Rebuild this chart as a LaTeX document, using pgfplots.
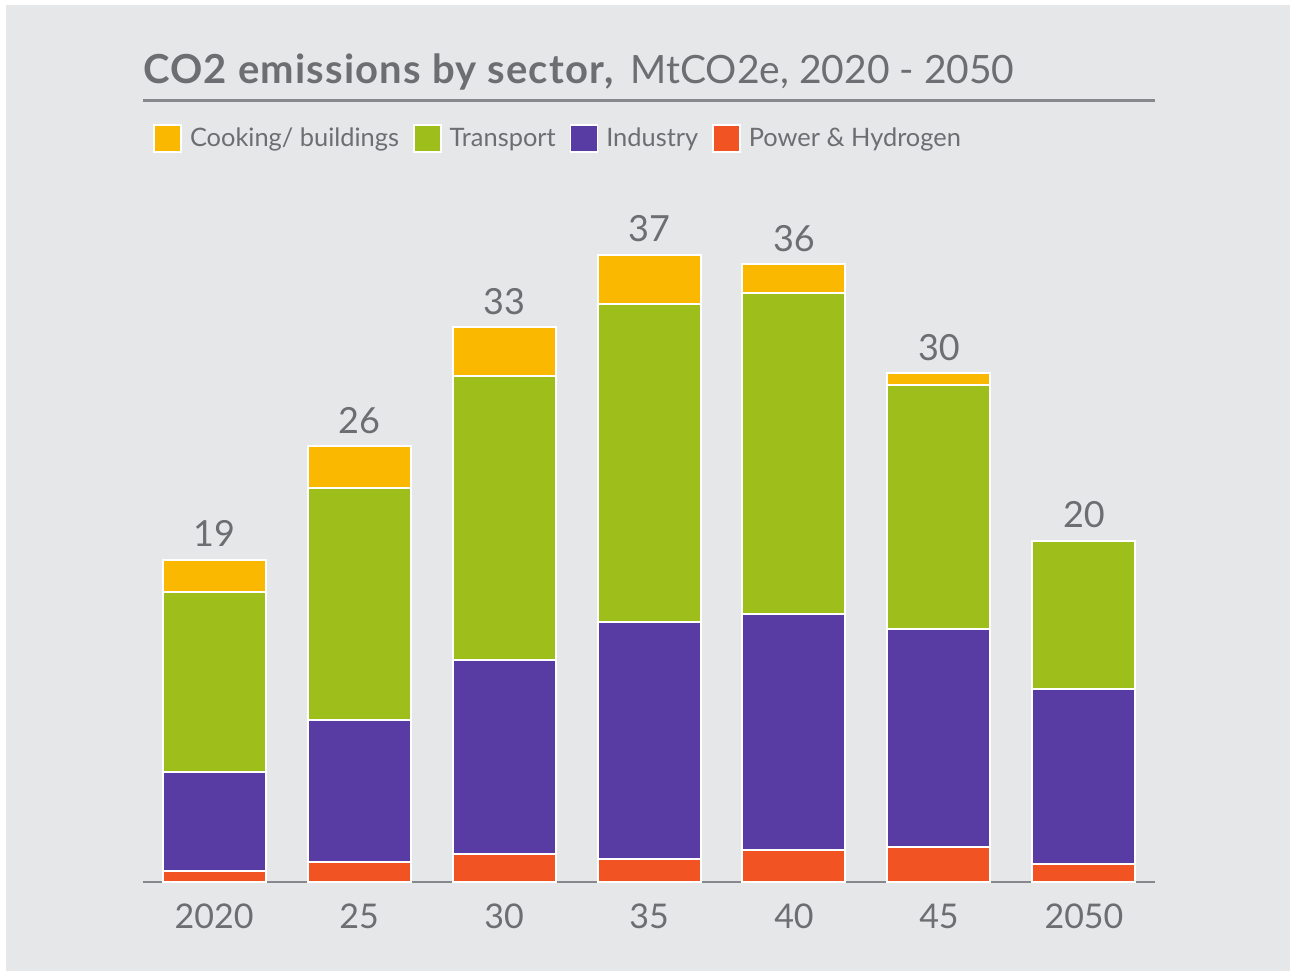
\documentclass[border=0pt]{standalone}
\usepackage{pgfplots}
\pgfplotsset{compat=1.18}
\usepackage{pgfplotstable}
\usepackage{fontspec}
\setmainfont{Lato}

\definecolor{bggray}{RGB}{230,231,232}
\definecolor{txtgray}{RGB}{109,110,113}
\definecolor{linegray}{RGB}{135,136,139}
\definecolor{cook}{RGB}{250,185,0}
\definecolor{trans}{RGB}{158,191,27}
\definecolor{indu}{RGB}{88,60,163}
\definecolor{power}{RGB}{241,84,34}

% stacked segments, stack top and printed total
\pgfplotstableread{
x power industry transport cooking top total
0 0.65 5.84 10.60 1.90 19.00 19
1 1.18 8.38 13.69 2.47 25.72 26
2 1.65 11.45 16.75 2.89 32.74 33
3 1.36 13.98 18.76 2.90 37.00 37
4 1.89 13.92 18.94 1.71 36.46 36
5 2.06 12.87 14.39 0.71 30.03 30
6 1.06 10.33 8.73 0.00 20.12 20
}\emissions

\pgfplotsset{
  base/.style={
    at={(71.5pt,-441pt)}, anchor=south west,
    scale only axis,
    width=506pt, height=339pt,
    xmin=-0.49, xmax=6.49, ymin=0, ymax=40,
  }
}

\begin{document}
\begin{tikzpicture}
% canvas: 1 px = 0.5pt
\fill[white] (0,0) rectangle (645pt,-485.5pt);
\fill[bggray] (3pt,-2.5pt) rectangle (645pt,-485.5pt);

% title
\node[anchor=base west, inner sep=0, text=txtgray, font=\fontsize{19.5}{22}\selectfont]
  at (71.5pt,-41.5pt) {{\fontsize{20}{22}\selectfont\addfontfeatures{LetterSpace=3}\bfseries CO2 emissions by sector,}\hspace{0.45em}MtCO2e, 2020 - 2050};
\draw[linegray, line width=1.5pt] (71.5pt,-50pt) -- (577.5pt,-50pt);

\begin{axis}[
  base,
  ybar stacked, bar width=51.5pt,
  axis x line*=bottom, axis y line=none,
  x axis line style={linegray, line width=1pt, -},
  xtick={0,...,6}, xticklabels={2020,25,30,35,40,45,2050},
  major tick length=0pt, ytick=\empty,
  xticklabel style={anchor=base, yshift=-23pt, text=txtgray,
    font=\fontsize{17}{20}\selectfont},
  /pgf/number format/assume math mode=true,
  every axis plot/.append style={draw=white, line width=1pt},
  legend style={at={(0.0099,1.0966)}, anchor=west, draw=none, fill=none,
    inner xsep=0pt, inner ysep=0pt, text=txtgray,
    font=\fontsize{12.7}{15}\selectfont, legend columns=4,
    /tikz/every odd column/.append style={column sep=2pt},
    /tikz/every even column/.append style={column sep=5pt}},
  legend cell align=left,
  reverse legend,
  legend image code/.code={\draw[#1, draw=white, line width=0.8pt] (0pt,-6.75pt) rectangle (13.5pt,6.75pt);},
]
  \addplot[fill=power] table[x=x, y=power] {\emissions};
  \addlegendentry{Power \& Hydrogen}
  \addplot[fill=indu] table[x=x, y=industry] {\emissions};
  \addlegendentry{Industry}
  \addplot[fill=trans] table[x=x, y=transport] {\emissions};
  \addlegendentry{Transport}
  \addplot[fill=cook] table[x=x, y=cooking] {\emissions};
  \addlegendentry{Cooking/ buildings}
\end{axis}

% totals above the stacks
\begin{axis}[base, hide axis]
  \addplot[draw=none, mark=none, nodes near coords, point meta=explicit symbolic,
    every node near coord/.style={anchor=base, yshift=6.5pt, text=txtgray,
      font=\fontsize{18}{21}\selectfont}]
    table[x=x, y=top, meta=total] {\emissions};
\end{axis}
\end{tikzpicture}
\end{document}
